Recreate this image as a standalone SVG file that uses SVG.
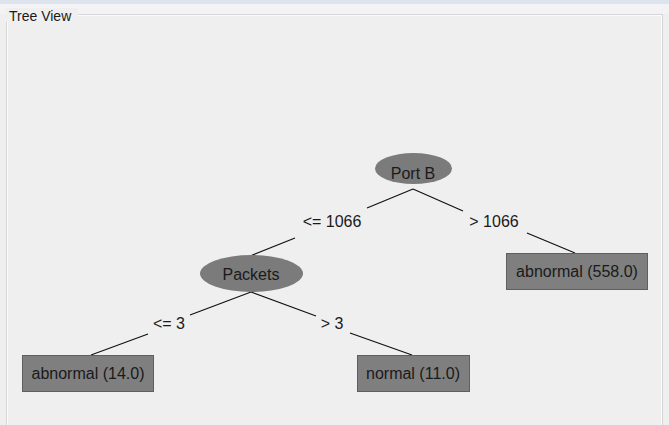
<svg xmlns="http://www.w3.org/2000/svg" width="669" height="425" viewBox="0 0 669 425">
<style>
.lbl{font-family:"Liberation Sans",Arial,sans-serif;font-size:16px;fill:#1a1a1a;text-anchor:middle}
.title{font-family:"Liberation Sans",Arial,sans-serif;font-size:14px;fill:#1a1a1a}
.ell{fill:#7b7b7b}
.box{fill:#7f7f7f;stroke:#5f5f5f;stroke-width:1}
.edge{stroke:#111;stroke-width:1.2;fill:none}
</style>
<rect x="0" y="0" width="669" height="425" fill="#efefef"/>
<rect x="0" y="0" width="669" height="4" fill="#dde4ee"/>
<rect x="0" y="4" width="669" height="10" fill="#f3f3f5"/>
<rect x="6.5" y="14.5" width="656" height="420" fill="none" stroke="#d6d6d6"/>
<rect x="7.5" y="15.5" width="654" height="420" fill="none" stroke="#fbfbfb"/>
<rect x="6" y="8" width="72" height="14" fill="#efefef"/>
<text class="title" x="9" y="21">Tree View</text>
<g id="connectors">
<path class="edge" d="M413,189 L367,208 M295,238 L250,256"/>
<path class="edge" d="M413,189 L463,211 M527,233 L575,253"/>
<path class="edge" d="M251,292 L190,315 M148,334 L91,355"/>
<path class="edge" d="M251,292 L316,316 M350,333 L412,355"/>
<text class="lbl" x="332" y="227">&lt;= 1066</text>
<text class="lbl" x="494" y="227">&gt; 1066</text>
<text class="lbl" x="169" y="329">&lt;= 3</text>
<text class="lbl" x="332" y="329">&gt; 3</text>
</g>
<g id="portB">
<ellipse class="ell" cx="413.5" cy="168.5" rx="38.5" ry="15.5"/>
<text class="lbl" x="413" y="179">Port B</text>
</g>
<g id="packets">
<ellipse class="ell" cx="251.5" cy="273.5" rx="51.5" ry="18.5"/>
<text class="lbl" x="251" y="280">Packets</text>
</g>
<g id="leaf558">
<rect class="box" x="506.5" y="253.5" width="141" height="36"/>
<text class="lbl" x="577" y="277">abnormal (558.0)</text>
</g>
<g id="leaf14">
<rect class="box" x="22.5" y="355.5" width="131" height="36"/>
<text class="lbl" x="88" y="379">abnormal (14.0)</text>
</g>
<g id="leaf11">
<rect class="box" x="357.5" y="355.5" width="112" height="36"/>
<text class="lbl" x="413" y="379">normal (11.0)</text>
</g>
</svg>
